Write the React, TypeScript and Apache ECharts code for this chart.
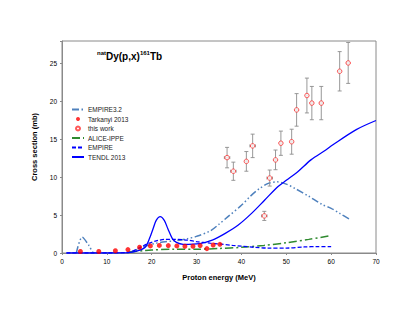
import React, { useEffect, useRef } from "react";
import * as echarts from "echarts";

// Tarkanyi 2013 (filled)
const tarkE = [4.1, 8.2, 11.9, 14.7, 17.3, 19.7, 21.7, 23.7, 25.6, 27.4, 29.2, 30.8, 32.3, 33.7, 35.2];
const tarkV = [0.2, 0.2, 0.3, 0.45, 0.76, 0.93, 1.0, 0.98, 0.93, 0.89, 0.89, 0.98, 0.58, 1.06, 1.15];

// this work (open) with errors
const workE = [36.8, 38.2, 41.1, 42.5, 45.1, 46.3, 47.6, 48.8, 51.2, 52.3, 54.6, 55.7, 57.8, 61.9, 63.8];
const workV = [12.6, 10.8, 12.1, 14.15, 4.9, 9.9, 12.3, 14.5, 14.7, 18.9, 20.8, 19.8, 19.8, 24.0, 25.1];
const workErr = [1.35, 1.2, 1.3, 1.55, 0.6, 1.06, 1.3, 1.6, 1.65, 2.15, 2.3, 2.2, 2.2, 2.6, 2.7];
const workXErr = [0.6, 0.6, 0.3, 0.6, 0.6, 0.6, 0.3, 0.3, 0.3, 0.3, 0.3, 0.3, 0.3, 0.3, 0.3];

// EMPIRE3.2
const emp32E = [3.2, 4.5, 6, 7.2, 10, 14, 15, 17, 19, 21, 23, 25, 28, 30, 33, 35, 37, 40, 42, 44, 46, 48, 50, 52, 55, 58, 60, 62, 64];
const emp32V = [0, 2.1, 1.0, 0, 0, 0, 0.1, 0.5, 1.0, 1.3, 1.5, 1.6, 1.9, 2.2, 2.9, 3.8, 4.8, 6.3, 7.5, 8.5, 9.2, 9.4, 9.1, 8.5, 7.5, 6.4, 5.9, 5.2, 4.5];

// EMPIRE
const empE = [1, 10, 15, 17, 19, 21, 23, 25, 28, 30, 33, 35, 38, 40, 43, 46, 50, 54, 57, 60];
const empV = [0, 0, 0.1, 0.6, 1.2, 1.6, 1.8, 1.8, 1.7, 1.5, 1.3, 1.2, 1.0, 0.9, 0.75, 0.65, 0.65, 0.8, 0.85, 0.85];

// ALICE-IPPE
const aliceE = [15, 18, 20, 25, 30, 35, 40, 45, 50, 55, 60];
const aliceV = [0.1, 0.3, 0.4, 0.5, 0.5, 0.6, 0.75, 1.0, 1.35, 1.8, 2.3];

// TENDL 2013
const tendlE = [1, 10, 15, 17, 18.6, 19.5, 20.3, 21, 21.9, 22.8, 23.6, 24.6, 25.5, 27, 30.7, 33.5, 36.4, 39.3, 42.2, 45.2, 48.1, 50, 52.5, 55.5, 58.8, 60.4, 65.6, 70];
const tendlV = [0, 0, 0.05, 0.3, 0.8, 1.9, 3.2, 4.3, 4.8, 4.3, 3.2, 1.9, 1.4, 1.15, 1.25, 1.7, 2.6, 3.7, 5.2, 7.0, 8.75, 9.6, 10.7, 12.3, 13.6, 14.3, 16.3, 17.5];

const xTicks = [0, 10, 20, 30, 40, 50, 60, 70];
const yTicks = [0, 5, 10, 15, 20, 25];

const zip = (a: number[], b: number[]) => a.map((x, i) => [x, b[i]]);

export default function App() {
  const ref = useRef<HTMLDivElement>(null);
  useEffect(() => {
    if (!ref.current) return;
    const chart = echarts.init(ref.current, null, { renderer: "svg" });
    const font = "Liberation Sans";
    const errData = workE.map((e, i) => [e, workV[i], workErr[i], workXErr[i]]);
    const hideSym = { opacity: 0 };
    chart.setOption({
      animation: false,
      backgroundColor: "#fff",
      textStyle: { fontFamily: font },
      grid: { left: 62, right: 39, top: 41, bottom: 68, show: true, borderColor: "#8a8a8a", borderWidth: 1 },
      title: {
        text: "{sup|nat}Dy(p,x){sup|161}Tb",
        left: 92,
        top: 45,
        textStyle: {
          fontFamily: font,
          fontWeight: "bold",
          fontSize: 10,
          color: "#000",
          rich: {
            sup: { fontSize: 6, fontWeight: "bold", fontFamily: font, padding: [0, 0, 7, 0], color: "#000" },
          },
        },
      },
      legend: {
        orient: "vertical",
        left: 66,
        top: 101,
        itemWidth: 12,
        itemHeight: 4,
        itemGap: 2.5,
        textStyle: { fontSize: 6.5, fontFamily: font, color: "#222", lineHeight: 6, padding: [0, 0, 0, -1] },
        data: [
          { name: "EMPIRE3.2", itemStyle: hideSym },
          { name: "Tarkanyi 2013" },
          { name: "this work" },
          { name: "ALICE-IPPE", itemStyle: hideSym },
          { name: "EMPIRE", itemStyle: hideSym },
          { name: "TENDL 2013", itemStyle: hideSym },
        ],
      },
      xAxis: {
        type: "value",
        min: 0,
        max: 70,
        interval: 10,
        name: "Proton energy (MeV)",
        nameLocation: "middle",
        nameGap: 20,
        nameTextStyle: { fontSize: 7.5, fontWeight: "bold", fontFamily: font, color: "#000" },
        splitLine: { show: false },
        axisLine: { lineStyle: { color: "#8a8a8a" } },
        axisTick: { show: true, length: 2, lineStyle: { color: "#8a8a8a" } },
        axisLabel: {
          fontSize: 6.5,
          color: "#000",
          margin: 5,
          formatter: (v: number) => (xTicks.includes(v) ? String(v) : ""),
        },
      },
      yAxis: {
        type: "value",
        min: 0,
        max: 28,
        interval: 5,
        name: "Cross section (mb)",
        nameLocation: "middle",
        nameGap: 21,
        nameTextStyle: { fontSize: 7.5, fontWeight: "bold", fontFamily: font, color: "#000" },
        splitLine: { show: false },
        axisLine: { lineStyle: { color: "#8a8a8a" } },
        axisTick: { show: true, length: 2, lineStyle: { color: "#8a8a8a" } },
        axisLabel: {
          fontSize: 6.5,
          color: "#000",
          margin: 5,
          formatter: (v: number) => (yTicks.includes(v) ? String(v) : ""),
        },
      },
      series: [
        {
          name: "EMPIRE3.2",
          type: "line",
          data: zip(emp32E, emp32V),
          smooth: 0.3,
          showSymbol: false,
          symbol: "none",
          lineStyle: { color: "#4f81bd", width: 1.5, type: [7, 2.5, 1.5, 2.5, 1.5, 2.5] },
          itemStyle: { color: "#4f81bd" },
          z: 2,
        },
        {
          name: "ALICE-IPPE",
          type: "line",
          data: zip(aliceE, aliceV),
          smooth: 0.3,
          symbol: "none",
          lineStyle: { color: "#2f8a2f", width: 1.5, type: [8, 3, 2, 3] },
          itemStyle: { color: "#2f8a2f" },
          z: 2,
        },
        {
          name: "EMPIRE",
          type: "line",
          data: zip(empE, empV),
          smooth: 0.3,
          symbol: "none",
          lineStyle: { color: "#0000ff", width: 1.3, type: [4, 2] },
          itemStyle: { color: "#0000ff" },
          z: 2,
        },
        {
          name: "TENDL 2013",
          type: "line",
          data: zip(tendlE, tendlV),
          smooth: 0.3,
          symbol: "none",
          lineStyle: { color: "#0000ff", width: 1.3 },
          itemStyle: { color: "#0000ff" },
          z: 3,
        },
        {
          name: "errbars",
          type: "custom",
          data: errData,
          z: 3,
          silent: true,
          renderItem: (params: any, api: any) => {
            const x = api.value(0);
            const y = api.value(1);
            const e = api.value(2);
            const xe = api.value(3);
            const top = api.coord([x, y + e]);
            const bot = api.coord([x, y - e]);
            const left = api.coord([x - xe, y]);
            const right = api.coord([x + xe, y]);
            const c = 2;
            const st = { stroke: "#8c8c8c", lineWidth: 0.9 };
            return {
              type: "group",
              children: [
                { type: "line", shape: { x1: top[0], y1: top[1], x2: bot[0], y2: bot[1] }, style: st },
                { type: "line", shape: { x1: top[0] - c, y1: top[1], x2: top[0] + c, y2: top[1] }, style: st },
                { type: "line", shape: { x1: bot[0] - c, y1: bot[1], x2: bot[0] + c, y2: bot[1] }, style: st },
                { type: "line", shape: { x1: left[0], y1: left[1], x2: right[0], y2: right[1] }, style: st },
                { type: "line", shape: { x1: left[0], y1: left[1] - 1.5, x2: left[0], y2: left[1] + 1.5 }, style: st },
                { type: "line", shape: { x1: right[0], y1: right[1] - 1.5, x2: right[0], y2: right[1] + 1.5 }, style: st },
              ],
            };
          },
        },
        {
          name: "Tarkanyi 2013",
          type: "scatter",
          data: zip(tarkE, tarkV),
          symbol: "circle",
          symbolSize: 5,
          itemStyle: { color: "#ff0000" },
          z: 5,
        },
        {
          name: "this work",
          type: "scatter",
          data: zip(workE, workV),
          symbol: "circle",
          symbolSize: 4.5,
          itemStyle: { color: "#ffffff", borderColor: "#ff3030", borderWidth: 1 },
          z: 5,
        },
      ],
    });
    return () => chart.dispose();
  }, []);
  return <div ref={ref} style={{ position: "absolute", left: 0, top: 0, width: 415, height: 321 }} />;
}
